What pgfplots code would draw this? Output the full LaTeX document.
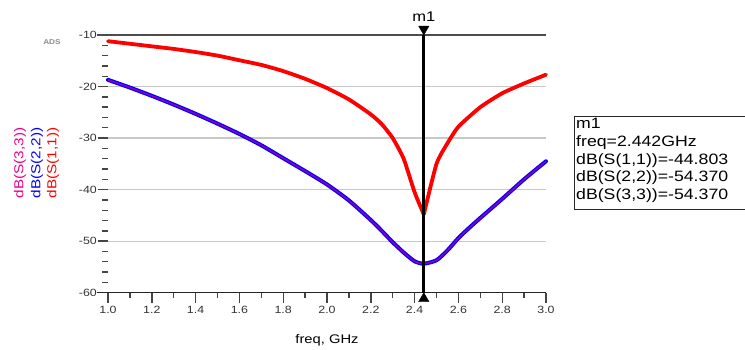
\documentclass[border=0pt]{standalone}
\usepackage{fontspec}
\setmainfont{Liberation Sans}
\newfontfamily\ads{Liberation Sans}[FakeStretch=1.18]
\usepackage{pgfplots}
\pgfplotsset{compat=1.18}
\definecolor{tickgray}{HTML}{444444}
\definecolor{gridgray}{HTML}{C8C8C8}
\begin{document}
\begin{tikzpicture}[x=1pt,y=1pt]
\begin{axis}[
  at={(108pt,56.3pt)}, anchor=south west,
  scale only axis, width=438pt, height=257.7pt,
  xmin=1, xmax=3, ymin=-60, ymax=-10,
  clip=false,
  axis line style={draw=none},
  xtick={1,1.2,1.4,1.6,1.8,2.0,2.2,2.4,2.6,2.8,3.0},
  xticklabels={1.0,1.2,1.4,1.6,1.8,2.0,2.2,2.4,2.6,2.8,3.0},
  minor xtick={1.1,1.3,1.5,1.7,1.9,2.1,2.3,2.5,2.7,2.9},
  ytick={-60,-50,-40,-30,-20,-10},
  yticklabels={-60,-50,-40,-30,-20,-10},
  minor ytick={-58,-56,-54,-52,-48,-46,-44,-42,-38,-36,-34,-32,-28,-26,-24,-22,-18,-16,-14,-12},
  xtick pos=left, ytick pos=left,
  tick align=outside,
  major tick length=10pt, minor tick length=5.5pt,
  every tick/.style={tickgray, line width=1.4pt},
  ymajorgrids,
  major grid style={gridgray, line width=1.3pt},
  ticklabel style={font=\ads\fontsize{10.5}{12}\selectfont, text=black!80},
  yticklabel style={anchor=east, inner sep=0pt, xshift=-1pt},
  xticklabel style={anchor=north, inner sep=0pt, yshift=-3pt},
]
\draw[black!70, line width=1.3pt] ([xshift=-11pt]rel axis cs:0,1) -- (rel axis cs:1,1);
\draw[black!85, line width=1.2pt] ([xshift=-11pt]rel axis cs:0,0) -- (rel axis cs:1,0);

% dB(S(2,2))
\addplot[blue, line width=4pt, line join=round, line cap=round, smooth, tension=0.4] coordinates {
(1.0,-18.7)(1.1,-20.2)(1.2,-21.8)(1.3,-23.5)(1.4,-25.3)(1.5,-27.2)(1.6,-29.2)
(1.7,-31.4)(1.8,-33.9)(1.9,-36.4)(2.0,-39.0)(2.1,-42.1)(2.2,-45.9)(2.25,-48.0)
(2.3,-50.2)(2.35,-52.2)(2.4,-53.9)(2.442,-54.37)(2.5,-53.7)(2.55,-51.8)
(2.6,-49.4)(2.65,-47.4)(2.7,-45.5)(2.8,-41.8)(2.9,-38.0)(3.0,-34.5)};
% dB(S(3,3))
\addplot[magenta, opacity=0.6, line width=1.5pt, line join=round, smooth, tension=0.4] coordinates {
(1.0,-18.7)(1.1,-20.2)(1.2,-21.8)(1.3,-23.5)(1.4,-25.3)(1.5,-27.2)(1.6,-29.2)
(1.7,-31.4)(1.8,-33.9)(1.9,-36.4)(2.0,-39.0)(2.1,-42.1)(2.2,-45.9)(2.25,-48.0)
(2.3,-50.2)(2.35,-52.2)(2.4,-53.9)(2.442,-54.37)(2.5,-53.7)(2.55,-51.8)
(2.6,-49.4)(2.65,-47.4)(2.7,-45.5)(2.8,-41.8)(2.9,-38.0)(3.0,-34.5)};
% dB(S(1,1)) left and right branches
\addplot[red, line width=3.8pt, line join=round, line cap=round, smooth, tension=0.35] coordinates {
(1.0,-11.2)(1.1,-11.7)(1.2,-12.2)(1.3,-12.7)(1.4,-13.3)(1.5,-14.0)(1.6,-14.9)
(1.7,-15.8)(1.8,-17.0)(1.9,-18.5)(2.0,-20.3)(2.1,-22.5)(2.2,-25.4)(2.25,-27.3)
(2.3,-30.0)(2.35,-34.0)(2.4,-40.5)(2.442,-44.803)};
\addplot[red, line width=3.8pt, line join=round, line cap=round, smooth, tension=0.35] coordinates {
(2.442,-44.803)(2.5,-35.0)(2.55,-31.0)
(2.6,-27.8)(2.7,-24.0)(2.8,-21.3)(2.9,-19.4)(3.0,-17.7)};

% marker m1
\addplot[black, line width=2.6pt] coordinates {(2.442,-60)(2.442,-10)};
\addplot[black, only marks, mark=triangle*, mark size=6pt,
  mark options={yshift=6pt, rotate=180}] coordinates {(2.442,-10)};
\addplot[black, only marks, mark=triangle*, mark size=6pt,
  mark options={yshift=-6pt}] coordinates {(2.442,-60)};
\node[font=\ads\fontsize{14}{16}\selectfont, anchor=center] at ([yshift=18pt]axis cs:2.442,-10) {m1};

\node[font=\ads\fontsize{12.5}{14}\selectfont, anchor=center] at ([yshift=-48pt]axis cs:2.0,-60) {freq, GHz};
\end{axis}

\node[rotate=90, font=\ads\fontsize{13}{15}\selectfont, text=magenta] at (20,186) {dB(S(3,3))};
\node[rotate=90, font=\ads\fontsize{13}{15}\selectfont, text=blue] at (37,186) {dB(S(2,2))};
\node[rotate=90, font=\ads\fontsize{13}{15}\selectfont, text=red] at (53,186) {dB(S(1,1))};
\node[font=\ads\bfseries\fontsize{7}{8}\selectfont, text=black!45] at (52,307) {ADS};

\draw[black!85, line width=1pt] (750,140) -- (574,140) -- (574,233) -- (750,233);
\node[anchor=north west, align=left, inner sep=0pt,
  font=\ads\fontsize{15}{17.8}\selectfont] at (576,231) {m1\\freq=2.442GHz\\dB(S(1,1))=-44.803\\dB(S(2,2))=-54.370\\dB(S(3,3))=-54.370};

\pgfresetboundingbox
\useasboundingbox (0,0) rectangle (745,349);
\end{tikzpicture}
\end{document}
